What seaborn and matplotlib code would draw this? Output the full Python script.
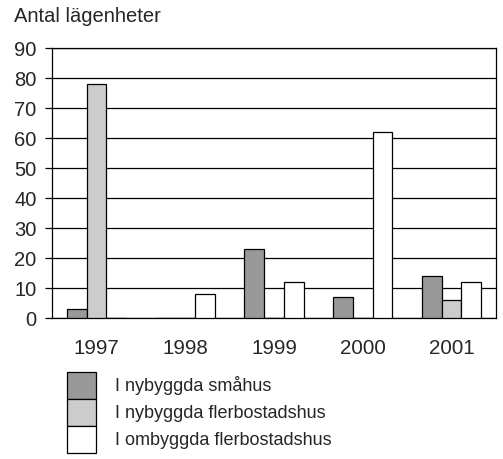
import matplotlib
matplotlib.use("Agg")
import matplotlib.pyplot as plt
import seaborn as sns
import pandas as pd
from matplotlib.patches import Patch

years = ["1997", "1998", "1999", "2000", "2001"]
series = ["I nybyggda småhus", "I nybyggda flerbostadshus", "I ombyggda flerbostadshus"]
smahus = [3, 0, 23, 7, 14]
nyflerbo = [78, 0, 0, 0, 6]
omflerbo = [0, 8, 12, 62, 12]
colors = ["#999999", "#cccccc", "#ffffff"]

rows = []
for name, vals in zip(series, [smahus, nyflerbo, omflerbo]):
    for y, v in zip(years, vals):
        rows.append({"År": y, "Typ": name, "Antal": v})
df = pd.DataFrame(rows)

sns.set_theme(style="white")
plt.rcParams["font.family"] = ["Liberation Sans", "DejaVu Sans"]

fig = plt.figure(figsize=(5.03, 4.59), dpi=100)
ax = fig.add_axes([52/503, 1 - 318/459, 444/503, 270/459])

sns.barplot(data=df, x="År", y="Antal", hue="Typ", order=years, hue_order=series,
            palette=colors, width=0.665, edgecolor="black", linewidth=0.9,
            saturation=1, legend=False, ax=ax, zorder=3)

ax.set_ylim(0, 90)
ax.set_xlim(-0.5, 4.5)
ax.set_yticks(range(0, 91, 10))
ax.yaxis.grid(True, color="black", linewidth=0.9, zorder=0)
ax.set_axisbelow(True)
ax.set_xlabel("")
ax.set_ylabel("")
for s in ax.spines.values():
    s.set_visible(True)
    s.set_color("black")
    s.set_linewidth(0.9)
ax.tick_params(axis="y", length=5, width=0.9, color="black", pad=6, labelsize=14.5, left=True)
ax.tick_params(axis="x", length=0, pad=15, labelsize=14.8)

fig.text(14/503, 1 - 7/459, "Antal lägenheter", fontsize=14.5, ha="left", va="top")

fs = 13
fpx = fs * 100 / 72
row_pt = 27 * 72 / 100
hh = (row_pt / fs - 0.245) / 0.65
handles = [Patch(facecolor=c, edgecolor="black", linewidth=0.9) for c in colors]
leg = fig.legend(handles, series, loc="upper left", bbox_to_anchor=(67/503, 1 - 372/459),
                 frameon=False, fontsize=fs, labelspacing=0.0, handlelength=29/fpx,
                 handleheight=hh, handletextpad=19/fpx, borderaxespad=0, borderpad=0)

fig.savefig("out.png", dpi=100)
